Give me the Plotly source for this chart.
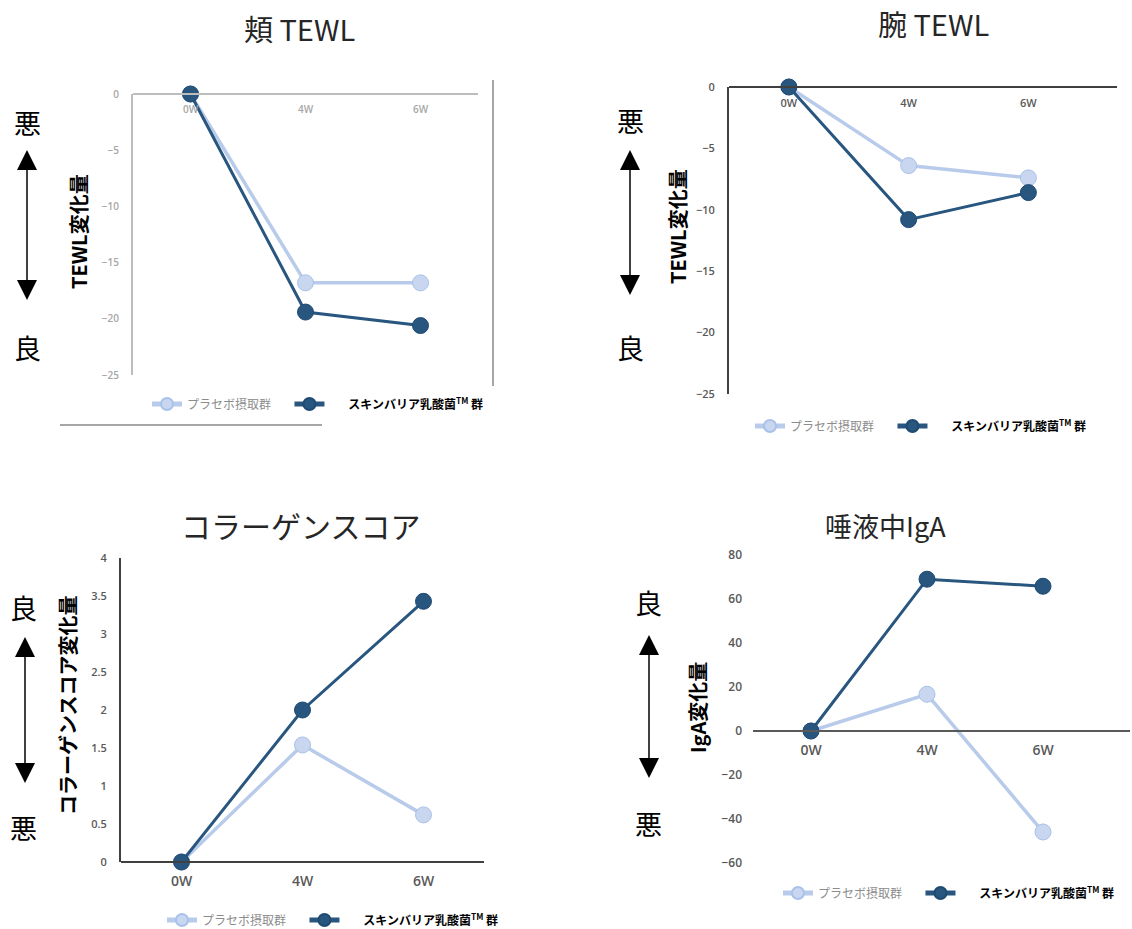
import plotly.graph_objects as go

W, H = 1132, 929

weeks = ["0W", "4W", "6W"]

cheek_placebo = [0, -16.8, -16.8]
cheek_skin = [0, -19.4, -20.6]
arm_placebo = [0, -6.4, -7.4]
arm_skin = [0, -10.8, -8.6]
collagen_placebo = [0, 1.54, 0.62]
collagen_skin = [0, 2.0, 3.43]
iga_placebo = [0, 16.7, -45.9]
iga_skin = [0, 69.0, 65.8]

panel_titles = ["頬 TEWL", "腕 TEWL", "コラーゲンスコア", "唾液中IgA"]
y_titles = ["TEWL変化量", "TEWL変化量", "コラーゲンスコア変化量", "IgA変化量"]
placebo_name = "プラセボ摂取群"
skin_name = "スキンバリア乳酸菌<sup>TM</sup> 群"

C_PLA_LINE = "#b8cbea"
C_PLA_FILL = "#c8d6ef"
C_PLA_EDGE = "#a9c2ea"
C_SKIN = "#28567f"
C_SKIN_EDGE = "#1f4a72"


def px(x):
    return x / W


def py(y):
    return 1 - y / H


fig = go.Figure()

panels = [
    dict(pla=cheek_placebo, skin=cheek_skin, xd=(133, 478), yd=(94, 375), yr=[-25, 0], xr=[-0.5, 2.5],
         xpos=94, lc="#bdbdbd", tc="#a6a6a6", xts=10, yts=10, dt=5, yline=True),
    dict(pla=arm_placebo, skin=arm_skin, xd=(729, 1117), yd=(87, 394), yr=[-25, 0], xr=[-0.5, 2.74],
         xpos=87, lc="#404040", tc="#595959", xts=11, yts=11, dt=5, yline=True),
    dict(pla=collagen_placebo, skin=collagen_skin, xd=(121, 484), yd=(558, 862), yr=[0, 4], xr=[-0.5, 2.5],
         xpos=862, lc="#404040", tc="#595959", xts=14, yts=11, dt=0.5, yline=True),
    dict(pla=iga_placebo, skin=iga_skin, xd=(753, 1130), yd=(555, 863), yr=[-60, 80], xr=[-0.5, 2.75],
         xpos=730.7, lc="#595959", tc="#595959", xts=14, yts=12, dt=20, yline=False),
]

legend_pos = [(147, 404), (750, 426), (162, 920), (778, 893)]

NB = "&nbsp;"

for i, p in enumerate(panels):
    n = i + 1
    xa = "x" if n == 1 else f"x{n}"
    ya = "y" if n == 1 else f"y{n}"
    lg = "legend" if n == 1 else f"legend{n}"
    fig.add_trace(go.Scatter(
        x=weeks, y=p["pla"], mode="lines+markers", xaxis=xa, yaxis=ya, legend=lg,
        name=f'<span style="color:#8c8c8c">{placebo_name}</span>' + NB * 5,
        line=dict(color=C_PLA_LINE, width=3.5),
        marker=dict(size=16, color=C_PLA_FILL, line=dict(color=C_PLA_EDGE, width=1)),
        cliponaxis=False,
    ))
    fig.add_trace(go.Scatter(
        x=weeks, y=p["skin"], mode="lines+markers", xaxis=xa, yaxis=ya, legend=lg,
        name=NB * 7 + f'<span style="color:#000000;font-weight:bold">{skin_name}</span>',
        line=dict(color=C_SKIN, width=3),
        marker=dict(size=16, color=C_SKIN, line=dict(color=C_SKIN_EDGE, width=1)),
        cliponaxis=False,
    ))
    xkey = "xaxis" if n == 1 else f"xaxis{n}"
    ykey = "yaxis" if n == 1 else f"yaxis{n}"
    fig.layout[xkey] = dict(
        type="category", domain=[px(p["xd"][0]), px(p["xd"][1])], range=p["xr"],
        anchor="free", position=py(p["xpos"]), side="bottom",
        showline=True, linecolor=p["lc"], linewidth=2, showgrid=False, zeroline=False,
        ticks="", ticklabelstandoff=6,
        tickfont=dict(family="Open Sans", size=p["xts"], color=p["tc"], weight=600),
        fixedrange=True,
    )
    fig.layout[ykey] = dict(
        domain=[py(p["yd"][1]), py(p["yd"][0])], range=p["yr"], dtick=p["dt"],
        anchor=xa, showline=p["yline"], linecolor=p["lc"], linewidth=2,
        showgrid=False, zeroline=False, ticks="", ticklabelstandoff=10,
        tickfont=dict(family="Open Sans", size=p["yts"], color=p["tc"], weight=600),
        fixedrange=True,
    )
    lx, ly = legend_pos[i]
    fig.layout[lg] = dict(
        orientation="h", x=px(lx), y=py(ly), xanchor="left", yanchor="middle",
        bgcolor="rgba(0,0,0,0)", font=dict(family="Noto Sans CJK JP", size=12),
        itemsizing="constant", itemwidth=30, tracegroupgap=0,
    )

annotations = []
title_pos = [(299, 28), (933, 23), (300, 525), (885, 525)]
title_sizes = [29, 29, 30, 27]
for t, (x, y), s in zip(panel_titles, title_pos, title_sizes):
    annotations.append(dict(text=t, x=px(x), y=py(y), xref="paper", yref="paper",
                            showarrow=False, xanchor="center", yanchor="middle",
                            font=dict(family="Noto Sans CJK JP", size=s, color="#262626")))

ytitle_pos = [(78, 232), (677, 227), (67, 705), (697, 708)]
for t, (x, y) in zip(y_titles, ytitle_pos):
    annotations.append(dict(text=t, x=px(x), y=py(y), xref="paper", yref="paper",
                            showarrow=False, xanchor="center", yanchor="middle", textangle=-90,
                            font=dict(family="Noto Sans CJK JP", size=20, color="#000000", weight="bold")))

gb = [("悪", 27, 122), ("良", 27, 347), ("悪", 630, 120), ("良", 630, 347),
      ("良", 23, 607), ("悪", 23, 827), ("良", 648, 602), ("悪", 648, 823)]
for t, x, y in gb:
    annotations.append(dict(text=t, x=px(x), y=py(y), xref="paper", yref="paper",
                            showarrow=False, xanchor="center", yanchor="middle",
                            font=dict(family="Noto Sans CJK JP", size=27, color="#000000")))

fig.update_layout(annotations=annotations)

shapes = []
arrows = [(27, 150, 300), (630, 150, 295), (25, 637, 783), (649, 635, 778)]
for x, y0, y1 in arrows:
    shapes.append(dict(type="line", xref="paper", yref="paper", x0=px(x), x1=px(x),
                       y0=py(y0 + 10), y1=py(y1 - 10), line=dict(color="#000000", width=1.5)))
    hw, hh = 10, 20
    shapes.append(dict(type="path", xref="paper", yref="paper",
                       path=f"M {px(x)} {py(y0)} L {px(x - hw)} {py(y0 + hh)} L {px(x + hw)} {py(y0 + hh)} Z",
                       fillcolor="#000000", line=dict(width=0)))
    shapes.append(dict(type="path", xref="paper", yref="paper",
                       path=f"M {px(x)} {py(y1)} L {px(x - hw)} {py(y1 - hh)} L {px(x + hw)} {py(y1 - hh)} Z",
                       fillcolor="#000000", line=dict(width=0)))

shapes.append(dict(type="line", xref="paper", yref="paper", x0=px(493), x1=px(493), y0=py(80), y1=py(386),
                   line=dict(color="#a6a6a6", width=2)))
shapes.append(dict(type="line", xref="paper", yref="paper", x0=px(60), x1=px(322), y0=py(425), y1=py(425),
                   line=dict(color="#a6a6a6", width=2)))

fig.update_layout(
    shapes=shapes,
    width=W, height=H,
    margin=dict(l=0, r=0, t=0, b=0, autoexpand=False),
    paper_bgcolor="white", plot_bgcolor="white",
    showlegend=True,
)

fig.write_html(
    "out.html",
    config={"displayModeBar": False},
    post_script="document.body.style.margin='0';document.body.style.overflow='hidden';",
)
